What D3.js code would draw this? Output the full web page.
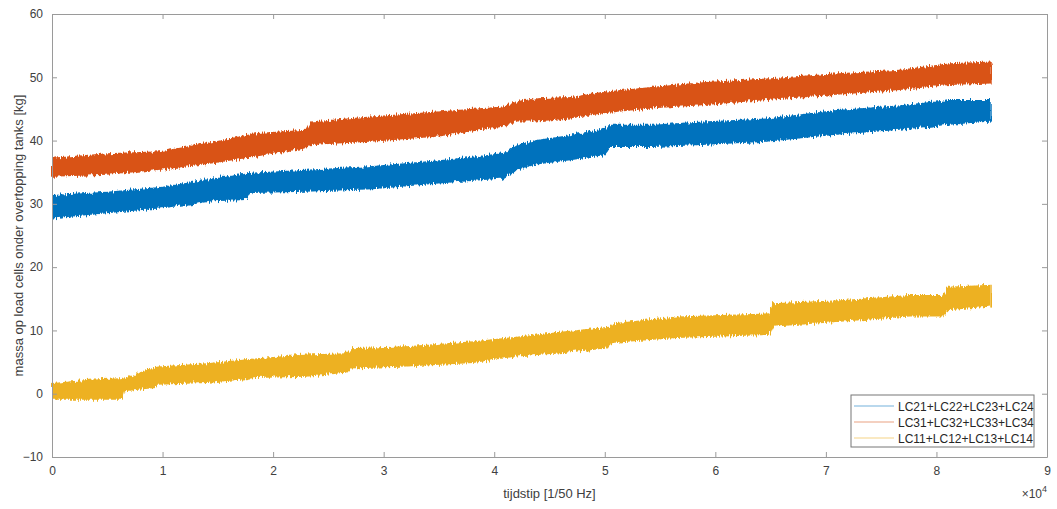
<!DOCTYPE html>
<html>
<head>
<meta charset="utf-8">
<script src="https://cdn.jsdelivr.net/npm/d3@7"></script>
<style>
  body { margin: 0; background: #fff; }
  #chart { width: 1057px; height: 509px; }
</style>
</head>
<body>
<div id="chart"></div>
<script>
// envelopes (min / max of the noisy signal)
const blueX = [0, 5000, 10000, 14600, 17600, 18000, 23000, 29000, 35000, 40800, 42000, 43800, 46900, 49900, 50500, 54400, 58800, 64650, 70700, 76700, 81200, 85000];
const blueHi = [31.4, 31.9, 32.7, 34.0, 34.8, 34.9, 35.4, 36.0, 36.9, 38.0, 39.3, 40.1, 40.9, 41.9, 42.5, 42.5, 43.0, 43.5, 44.8, 45.6, 46.4, 46.4];
const blueLo = [27.7, 28.5, 29.3, 30.4, 30.6, 31.7, 31.9, 32.3, 33.2, 34.0, 35.3, 36.2, 36.9, 37.7, 39.0, 39.0, 39.3, 39.8, 40.9, 41.7, 42.5, 43.0];

const orangeX = [0, 5000, 9800, 14600, 18500, 23000, 23400, 28800, 34800, 40800, 42000, 43800, 46900, 49900, 54400, 58800, 64650, 70700, 76700, 81200, 85000];
const orangeHi = [37.3, 38.0, 38.3, 39.8, 41.2, 41.7, 43.0, 43.8, 44.6, 45.4, 46.2, 46.7, 46.9, 47.7, 48.5, 49.2, 49.8, 50.6, 51.2, 52.2, 52.5];
const orangeLo = [34.3, 34.6, 35.4, 36.4, 37.5, 38.8, 39.3, 39.8, 40.6, 42.2, 43.0, 43.0, 43.5, 44.3, 45.1, 45.6, 46.4, 47.2, 48.0, 48.8, 49.0];

const yellowX = [0, 3400, 6400, 6600, 9300, 9600, 14000, 18500, 23000, 26600, 27000, 32100, 38100, 42000, 46000, 50400, 50600, 56500, 64900, 65200, 71600, 77600, 80600, 81000, 85000];
const yellowHi = [1.7, 2.2, 2.5, 2.6, 4.2, 4.3, 4.8, 5.6, 6.2, 6.4, 7.2, 7.5, 8.3, 9.0, 9.8, 10.6, 11.1, 12.2, 12.7, 14.3, 14.8, 15.6, 15.6, 16.9, 17.2];
const yellowLo = [-0.95, -0.95, -0.95, 0.4, 0.9, 1.4, 1.7, 2.5, 2.7, 3.3, 4.0, 4.3, 4.85, 5.9, 6.4, 7.2, 8.0, 8.8, 9.3, 10.6, 11.4, 12.2, 12.2, 13.2, 13.8];

const seriesNames = ["LC21+LC22+LC23+LC24", "LC31+LC32+LC33+LC34", "LC11+LC12+LC13+LC14"];
const seriesColors = ["#0072BD", "#D95319", "#EDB120"];

const xTicks = [0, 10000, 20000, 30000, 40000, 50000, 60000, 70000, 80000, 90000];
const yTicks = [-10, 0, 10, 20, 30, 40, 50, 60];

const xLabel = "tijdstip [1/50 Hz]";
const yLabel = "massa op load cells onder overtopping tanks [kg]";

const width = 1057, height = 509;
const margin = { top: 14, right: 10, bottom: 52, left: 52 };
const innerWidth = width - margin.left - margin.right;
const innerHeight = height - margin.top - margin.bottom;
const font = "'Liberation Sans', Arial, Helvetica, sans-serif";
const axisColor = "#9a9a9a";
const textColor = "#404040";

const svg = d3.select("#chart").append("svg")
  .attr("width", width)
  .attr("height", height)
  .style("font-family", font);

// roughen the band edges so they read like a dense noisy signal
const filter = svg.append("defs").append("filter")
  .attr("id", "rough")
  .attr("x", "-2%").attr("y", "-20%")
  .attr("width", "104%").attr("height", "140%");
filter.append("feTurbulence")
  .attr("type", "fractalNoise")
  .attr("baseFrequency", "0.7 0.04")
  .attr("numOctaves", 2)
  .attr("seed", 4)
  .attr("result", "noise");
filter.append("feDisplacementMap")
  .attr("in", "SourceGraphic")
  .attr("in2", "noise")
  .attr("scale", 7)
  .attr("xChannelSelector", "B")
  .attr("yChannelSelector", "R");

const g = svg.append("g").attr("transform", `translate(${margin.left},${margin.top})`);

const x = d3.scaleLinear().domain([0, 90000]).range([0, innerWidth]);
const y = d3.scaleLinear().domain([-10, 60]).range([innerHeight, 0]);

// bands
const series = [
  { xs: blueX, hi: blueHi, lo: blueLo },
  { xs: orangeX, hi: orangeHi, lo: orangeLo },
  { xs: yellowX, hi: yellowHi, lo: yellowLo },
].map((s, i) => ({
  name: seriesNames[i],
  color: seriesColors[i],
  values: s.xs.map((v, j) => ({ x: v, hi: s.hi[j], lo: s.lo[j] })),
}));

const area = d3.area()
  .x((d) => x(d.x))
  .y0((d) => y(d.lo))
  .y1((d) => y(d.hi));

g.selectAll("path.band")
  .data(series)
  .join("path")
  .attr("class", "band")
  .attr("fill", (d) => d.color)
  .attr("filter", "url(#rough)")
  .attr("d", (d) => area(d.values));

// axes, MATLAB style box with inward ticks
function styleAxis(sel) {
  sel.select(".domain").attr("stroke", axisColor);
  sel.selectAll(".tick line").attr("stroke", axisColor);
  sel.selectAll(".tick text").attr("fill", textColor).attr("font-size", 12).attr("font-family", font);
}

g.append("g")
  .attr("transform", `translate(0,${innerHeight})`)
  .call(d3.axisBottom(x).tickValues(xTicks).tickFormat((d) => d / 10000).tickSizeInner(-5).tickSizeOuter(0).tickPadding(9))
  .call(styleAxis);

g.append("g")
  .call(d3.axisTop(x).tickValues(xTicks).tickSizeInner(-5).tickSizeOuter(0))
  .call(styleAxis)
  .call((a) => a.selectAll(".tick text").remove());

g.append("g")
  .call(d3.axisLeft(y).tickValues(yTicks).tickSizeInner(-5).tickSizeOuter(0).tickPadding(9))
  .call(styleAxis);

g.append("g")
  .attr("transform", `translate(${innerWidth},0)`)
  .call(d3.axisRight(y).tickValues(yTicks).tickSizeInner(-5).tickSizeOuter(0))
  .call(styleAxis)
  .call((a) => a.selectAll(".tick text").remove());

// axis labels
svg.append("text")
  .attr("x", margin.left + innerWidth / 2)
  .attr("y", 498)
  .attr("text-anchor", "middle")
  .attr("font-size", 13)
  .attr("fill", textColor)
  .text(xLabel);

svg.append("text")
  .attr("transform", `translate(23,${margin.top + innerHeight / 2}) rotate(-90)`)
  .attr("text-anchor", "middle")
  .attr("font-size", 13)
  .attr("fill", textColor)
  .text(yLabel);

// exponent
const expo = svg.append("text")
  .attr("x", margin.left + innerWidth)
  .attr("y", 498)
  .attr("text-anchor", "end")
  .attr("font-size", 12)
  .attr("fill", textColor);
expo.append("tspan").text("\u00d710");
expo.append("tspan").attr("dy", -6).attr("font-size", 9).text("4");

// legend
const legend = g.append("g")
  .attr("transform", `translate(${851 - margin.left},${395 - margin.top})`);

legend.append("rect")
  .attr("width", 183)
  .attr("height", 52)
  .attr("fill", "#fff")
  .attr("stroke", "#777")
  .attr("stroke-width", 1);

const item = legend.selectAll("g.item")
  .data(series)
  .join("g")
  .attr("class", "item")
  .attr("transform", (d, i) => `translate(0,${11 + i * 16})`);

item.append("line")
  .attr("x1", 3)
  .attr("x2", 43)
  .attr("stroke", (d) => d.color)
  .attr("stroke-opacity", 0.55)
  .attr("stroke-width", 1);

item.append("text")
  .attr("x", 47)
  .attr("y", 4.5)
  .attr("font-size", 12)
  .attr("fill", "#262626")
  .text((d) => d.name);
</script>
</body>
</html>
